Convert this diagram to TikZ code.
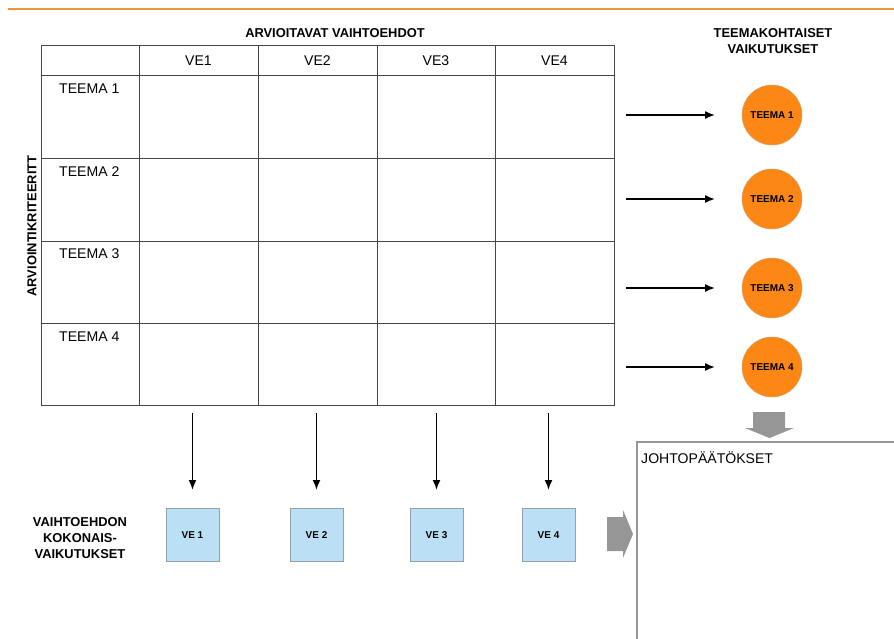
\documentclass[tikz,border=0pt]{standalone}
\usepackage{fontspec}
\setmainfont{Liberation Sans}
\usetikzlibrary{positioning,shapes,arrows.meta}
\definecolor{viivaoranssi}{RGB}{240,150,60}
\definecolor{teemaoranssi}{RGB}{253,135,20}
\definecolor{reunaoranssi}{RGB}{215,160,110}
\definecolor{vesininen}{RGB}{187,224,245}
\definecolor{vereuna}{RGB}{150,160,170}
\definecolor{harmaa}{RGB}{150,150,150}
\definecolor{taulukko}{RGB}{70,70,70}

\begin{document}
\begin{tikzpicture}[x=0.03cm, y=-0.03cm,
    font=\fontsize{12}{14}\selectfont,
    taulu/.style={draw=taulukko, line width=0.8pt},
    otsikko/.style={font=\fontsize{11}{13.6}\selectfont\bfseries, align=center, inner sep=0pt},
    teemapallo/.style={circle, fill=teemaoranssi, draw=reunaoranssi, line width=0.4pt, minimum size=1.8cm, inner sep=0pt, font=\fontsize{8.5}{10}\selectfont\bfseries},
    velaatikko/.style={rectangle, fill=vesininen, draw=vereuna, line width=0.8pt, minimum size=1.59cm, inner sep=0pt, font=\fontsize{8.5}{10}\selectfont\bfseries},
    nuoli/.style={-{Latex[length=0.3cm, width=0.24cm]}, line width=1.5pt}]
      \clip (0,0) rectangle (894,638);
      \draw[viivaoranssi, line width=2pt] (8,9) -- (894,9);
      % taulukko
      \draw[taulu] (41,45) rectangle (614,405)
                   (41,75) -- (614,75)
                   (41,158) -- (614,158)
                   (41,241) -- (614,241)
                   (41,323) -- (614,323)
                   (139,45) -- (139,405)
                   (258,45) -- (258,405)
                   (377,45) -- (377,405)
                   (495,45) -- (495,405);
      \node (ve1) at (198.5,61) {VE1};
      \node (ve2) at (317.5,61) {VE2};
      \node (ve3) at (436,61) {VE3};
      \node (ve4) at (554.5,61) {VE4};
      \node [anchor=west, inner sep=0pt] (rivi1) at (59,89) {TEEMA 1};
      \node [anchor=west, inner sep=0pt] (rivi2) at (59,172) {TEEMA 2};
      \node [anchor=west, inner sep=0pt] (rivi3) at (59,254) {TEEMA 3};
      \node [anchor=west, inner sep=0pt] (rivi4) at (59,337) {TEEMA 4};
      \node [otsikko] (vaihtoehdot) at (335,33) {ARVIOITAVAT VAIHTOEHDOT};
      \node [otsikko, rotate=90] (kriteerit) at (32,226) {ARVIOINTIKRITEERITT};
      \node [otsikko] (teemakohtaiset) at (773,41) {TEEMAKOHTAISET\\VAIKUTUKSET};
      % teemakohtaiset vaikutukset
      \foreach \i/\y in {1/115, 2/199, 3/288, 4/367} {
        \node [teemapallo] (pallo\i) at (772,\y) {TEEMA \i};
        \coordinate (alku\i) at (626,\y);
        \draw [nuoli, shorten >=0.8cm] (alku\i) -- (pallo\i);
      }
      % vaihtoehtojen kokonaisvaikutukset
      \foreach \i/\x in {1/192.5, 2/316.5, 3/436.5, 4/548.5} {
        \node [velaatikko] (laatikko\i) at (\x,535) {VE \i};
        \coordinate (ylos\i) at (\x,413);
        \draw [nuoli, shorten >=0.54cm] (ylos\i) -- (laatikko\i);
      }
      \node [otsikko] (kokonais) at (80,538) {VAIHTOEHDON\\KOKONAIS-\\VAIKUTUKSET};
      % johtopaatokset
      \draw [harmaa, line width=2.4pt] (637,442) rectangle (910,660);
      \node [anchor=base west, inner sep=0pt] (johto) at (641,463) {JOHTOPÄÄTÖKSET};
      \fill [harmaa] (607,517) -- (623,517) -- (623,510) -- (633,534)
                     -- (623,558) -- (623,551) -- (607,551) -- cycle;
      \fill [harmaa] (753,412) -- (785,412) -- (785,428) -- (794,428)
                     -- (769.5,438) -- (745,428) -- (753,428) -- cycle;
\end{tikzpicture}
\end{document}
